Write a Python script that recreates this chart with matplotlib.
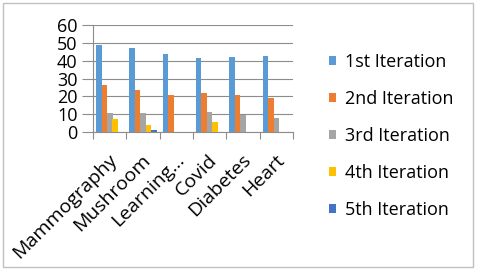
import matplotlib
matplotlib.use("Agg")
import matplotlib.pyplot as plt
from matplotlib.patches import Rectangle
import numpy as np

categories = ["Mammography", "Mushroom", "Learning…", "Covid", "Diabetes", "Heart"]
series_names = ["1st Iteration", "2nd Iteration", "3rd Iteration", "4th Iteration", "5th Iteration"]
it1 = [48.8, 47.3, 43.6, 41.3, 42.1, 42.5]
it2 = [26.3, 23.6, 20.5, 21.8, 20.5, 19.0]
it3 = [10.4, 10.4, 0.0, 11.0, 9.3, 8.0]
it4 = [7.3, 3.9, 0.0, 5.8, 0.0, 0.0]
it5 = [0.0, 1.3, 0.0, 0.0, 0.0, 0.0]
colors = ["#5B9BD5", "#ED7D31", "#A5A5A5", "#FFC000", "#4472C4"]
yticks = [0, 10, 20, 30, 40, 50, 60]

plt.rcParams['font.family'] = ['Open Sans', 'DejaVu Sans']
FS = 13

fig = plt.figure(figsize=(4.8, 2.71), dpi=100)
fig.patch.set_facecolor("white")
ax = fig.add_axes([93/480, 1-132/271, 200/480, 107/271])

series = [it1, it2, it3, it4, it5]
x = np.arange(len(categories))
bw = 0.165
for i, (vals, c, name) in enumerate(zip(series, colors, series_names)):
    ax.bar(x - 0.41 + bw/2 + i*bw, vals, width=bw, color=c, label=name, zorder=3)

ax.set_xlim(-0.5, len(categories) - 0.5)
ax.set_ylim(0, 60)
ax.set_yticks(yticks)
ax.set_yticklabels([str(v) for v in yticks], fontsize=FS)
ax.yaxis.grid(True, color="#8c8c8c", lw=0.8, zorder=0)
ax.tick_params(axis='y', length=8, color="#8c8c8c", pad=3)
ax.set_xticks(np.arange(-0.5, len(categories), 1.0))
ax.set_xticklabels([])
ax.tick_params(axis='x', length=5, color="#8c8c8c")
for s in ["top", "right"]:
    ax.spines[s].set_visible(False)
for s in ["left", "bottom"]:
    ax.spines[s].set_color("#8c8c8c")
    ax.spines[s].set_linewidth(0.8)

for xi, lab in zip(x, categories):
    ax.text(xi - 0.04, -10.5, lab, rotation=45, ha='right', va='top', rotation_mode='anchor',
            fontsize=14, transform=ax.transData, clip_on=False)

leg = fig.legend(loc='upper left', bbox_to_anchor=(322/480, 1-46/271), frameon=False,
                 fontsize=FS, handlelength=0.4, handleheight=0.4, handletextpad=0.45,
                 labelspacing=1.05, borderaxespad=0)

fig.patches.append(Rectangle((3/480, 4/271), 470/480, 264/271, transform=fig.transFigure,
                             fill=False, edgecolor="#c0c0c0", lw=1))

fig.savefig("out.png", dpi=100, facecolor="white")
